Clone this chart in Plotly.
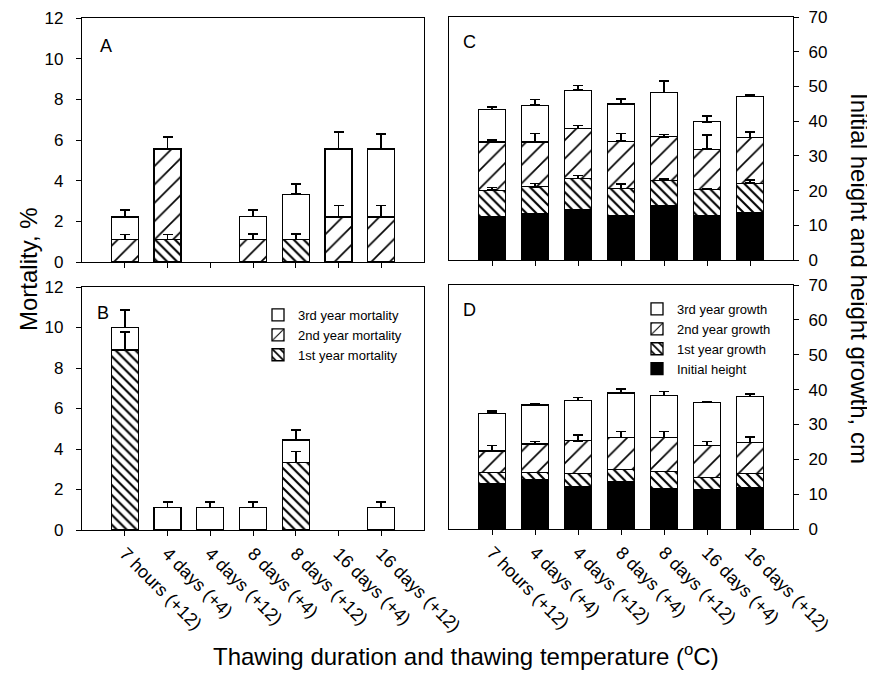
import plotly.graph_objects as go

categories = ["7 hours (+12)", "4 days (+4)", "4 days (+12)", "8 days (+4)",
              "8 days (+12)", "16 days (+4)", "16 days (+12)"]

# Panel A: mortality (%)
a_y1 = [0, 1.11, 0, 0, 1.11, 0, 0]
a_y2 = [1.11, 4.45, 0, 1.11, 0, 2.22, 2.22]
a_y3 = [1.11, 0, 0, 1.12, 2.22, 3.34, 3.34]
a_e1 = [0, 0.25, 0, 0, 0.28, 0, 0]
a_e2 = [0.25, 0.6, 0, 0.28, 0, 0.55, 0.55]
a_e3 = [0.33, 0, 0, 0.33, 0.52, 0.82, 0.75]

# Panel B: mortality (%)
b_y1 = [8.89, 0, 0, 0, 3.33, 0, 0]
b_y2 = [0, 0, 0, 0, 0, 0, 0]
b_y3 = [1.11, 1.11, 1.11, 1.11, 1.11, 0, 1.11]
b_e1 = [0.9, 0, 0, 0, 0.55, 0, 0]
b_e2 = [0, 0, 0, 0, 0, 0, 0]
b_e3 = [0.86, 0.26, 0.26, 0.26, 0.5, 0, 0.28]

# Panel C: initial height and growth (cm)
c_h0 = [12.5, 13.4, 14.6, 12.9, 15.6, 12.9, 13.6]
c_g1 = [7.6, 7.7, 8.9, 7.7, 7.4, 7.5, 8.5]
c_g2 = [13.9, 12.9, 14.4, 13.6, 12.5, 11.5, 13.2]
c_g3 = [9.3, 10.6, 11.0, 10.7, 12.8, 7.9, 11.9]
c_e1 = [0.8, 0.9, 0.9, 1.3, 0.5, 0.2, 0.9]
c_e2 = [0.5, 2.4, 0.9, 2.2, 0.7, 4.1, 1.6]
c_e3 = [0.8, 1.6, 1.4, 1.4, 3.2, 1.6, 0.3]

# Panel D: initial height and growth (cm)
d_h0 = [13.0, 14.1, 12.2, 13.5, 11.7, 11.3, 11.9]
d_g1 = [3.2, 2.2, 3.8, 3.5, 4.8, 3.5, 4.1]
d_g2 = [6.2, 8.1, 9.3, 9.3, 9.8, 9.2, 8.8]
d_g3 = [10.8, 11.2, 11.6, 12.7, 12.0, 12.3, 13.2]
d_e2 = [1.5, 0.7, 1.7, 1.7, 1.7, 1.1, 1.6]
d_e3 = [0.7, 0.3, 0.8, 1.1, 1.1, 0.3, 0.7]

y_ticks_mort = [0, 2, 4, 6, 8, 10, 12]
y_ticks_height = [0, 10, 20, 30, 40, 50, 60, 70]

FONT = "Arial, Liberation Sans, Helvetica, sans-serif"
OFF = 8                      # default page body margin
W, H = 875 - OFF, 676 - OFF  # figure size fitting the window


def nz(vals):
    return [v if v else None for v in vals]


def errs(vals):
    return dict(type="data", symmetric=False, array=nz(vals),
                arrayminus=[0] * len(vals), color="black",
                thickness=1.6, width=5, visible=True)


STYLES = {
    "white": dict(color="rgba(255,255,255,0)", line=dict(color="black", width=1.3)),
    "fwd": dict(color="rgba(0,0,0,0)", line=dict(color="black", width=1.3),
                pattern=dict(shape="/", fgcolor="black", size=13, solidity=0.13,
                             fillmode="replace")),
    "back": dict(color="rgba(0,0,0,0)", line=dict(color="black", width=1.3),
                 pattern=dict(shape="\\", fgcolor="black", size=7, solidity=0.3,
                              fillmode="replace")),
    "black": dict(color="black", line=dict(color="black", width=1.3)),
}

fig = go.Figure()


def add_bar(vals, err, style, name, xa, ya, legend=None, rank=0):
    kw = {}
    if err is not None:
        kw["error_y"] = errs(err)
    fig.add_trace(go.Bar(
        x=categories, y=nz(vals), name=name, marker=STYLES[style],
        xaxis=xa, yaxis=ya, showlegend=legend is not None,
        legend=legend if legend else "legend", legendrank=rank, **kw))


# Panel A (x, y)
add_bar(a_y1, a_e1, "back", "1st year mortality", "x", "y")
add_bar(a_y2, a_e2, "fwd", "2nd year mortality", "x", "y")
add_bar(a_y3, a_e3, "white", "3rd year mortality", "x", "y")
# Panel B (x2, y2)
add_bar(b_y1, b_e1, "back", "1st year mortality", "x2", "y2", "legend", 3)
add_bar(b_y2, b_e2, "fwd", "2nd year mortality", "x2", "y2", "legend", 2)
add_bar(b_y3, b_e3, "white", "3rd year mortality", "x2", "y2", "legend", 1)
# Panel C (x3, y3)
add_bar(c_h0, None, "black", "Initial height", "x3", "y3")
add_bar(c_g1, c_e1, "back", "1st year growth", "x3", "y3")
add_bar(c_g2, c_e2, "fwd", "2nd year growth", "x3", "y3")
add_bar(c_g3, c_e3, "white", "3rd year growth", "x3", "y3")
# Panel D (x4, y4)
add_bar(d_h0, None, "black", "Initial height", "x4", "y4", "legend2", 4)
add_bar(d_g1, None, "back", "1st year growth", "x4", "y4", "legend2", 3)
add_bar(d_g2, d_e2, "fwd", "2nd year growth", "x4", "y4", "legend2", 2)
add_bar(d_g3, d_e3, "white", "3rd year growth", "x4", "y4", "legend2", 1)


def fx(p):
    return (p - OFF) / W


def fy(p):
    return (H - (p - OFF)) / H


def px_x(a, b):
    return [fx(a), fx(b)]


def px_y(top, bottom):
    return [fy(bottom), fy(top)]


common_axis = dict(showline=True, linecolor="black", linewidth=1.3, mirror=True,
                   ticks="outside", ticklen=5, tickwidth=1.2, tickcolor="black",
                   showgrid=False, zeroline=False, automargin=False,
                   tickfont=dict(family=FONT, size=17, color="black"))

yleft = dict(common_axis, ticklabelstandoff=9, range=[0, 12],
             ticklabeloverflow="allow")
yright = dict(common_axis, ticklabelstandoff=6, side="right", range=[0, 70],
              ticklabeloverflow="allow")

xcommon = dict(common_axis, type="category", categoryorder="array",
               categoryarray=categories, range=[-1, 7])

xlab_font = dict(family=FONT, size=18, color="black")

fig.update_layout(
    width=W, height=H,
    margin=dict(l=0, r=0, t=0, b=0, autoexpand=False),
    plot_bgcolor="white", paper_bgcolor="white",
    barmode="stack", bargap=0.37,
    font=dict(family=FONT, color="black"),
    xaxis=dict(xcommon, domain=px_x(82, 424), anchor="y", showticklabels=False),
    yaxis=dict(yleft, domain=px_y(18, 262), anchor="x", tickvals=y_ticks_mort),
    xaxis2=dict(xcommon, domain=px_x(82, 424), anchor="y2", tickangle=45,
                tickfont=xlab_font),
    yaxis2=dict(yleft, domain=px_y(287, 530), anchor="x2", tickvals=y_ticks_mort),
    xaxis3=dict(xcommon, domain=px_x(449, 793), anchor="y3", showticklabels=False),
    yaxis3=dict(yright, domain=px_y(17, 260), anchor="x3", tickvals=y_ticks_height),
    xaxis4=dict(xcommon, domain=px_x(449, 793), anchor="y4", tickangle=45,
                tickfont=xlab_font),
    yaxis4=dict(yright, domain=px_y(285, 529), anchor="x4", tickvals=y_ticks_height),
    legend=dict(x=fx(258), y=fy(300), xanchor="left", yanchor="top",
                bgcolor="rgba(0,0,0,0)", traceorder="normal",
                font=dict(family=FONT, size=13, color="black"),
                itemwidth=30, tracegroupgap=0),
    legend2=dict(x=fx(637), y=fy(294), xanchor="left", yanchor="top",
                 bgcolor="rgba(0,0,0,0)", traceorder="normal",
                 font=dict(family=FONT, size=13, color="black"),
                 itemwidth=30, tracegroupgap=0),
)

ann_font = dict(family=FONT, size=18, color="black")
for txt, x, y in [("A", 106, 46), ("B", 103, 313), ("C", 470, 42), ("D", 470, 310)]:
    fig.add_annotation(text=txt, x=fx(x), y=fy(y), xref="paper", yref="paper",
                       showarrow=False, font=ann_font, xanchor="center", yanchor="middle")

title_font = dict(family=FONT, size=24, color="black")
fig.add_annotation(text="Mortality, %", x=fx(28), y=fy(269), xref="paper",
                   yref="paper", showarrow=False, textangle=-90, font=title_font,
                   xanchor="center", yanchor="middle")
fig.add_annotation(text="Initial height and height growth, cm", x=fx(860),
                   y=fy(278), xref="paper", yref="paper", showarrow=False,
                   textangle=90, font=title_font, xanchor="center", yanchor="middle")
fig.add_annotation(text="Thawing duration and thawing temperature (<sup>o</sup>C)",
                   x=fx(466), y=fy(655), xref="paper", yref="paper",
                   showarrow=False, font=title_font, xanchor="center", yanchor="middle")

fig.write_html("out.html")
